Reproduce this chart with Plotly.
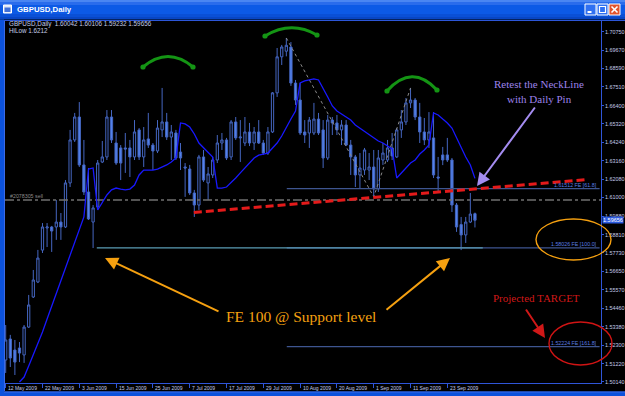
import plotly.graph_objects as go

W, H = 625, 396
PL, PR, PT, PB = 5, 601, 21, 383   # plot area in pixels

SANS = "Liberation Sans, Arial, sans-serif"
SERIF = "Liberation Serif, Times New Roman, serif"
AX = "#2f55d8"
TXT = "#c4cce8"

# ---------------- data ----------------
DATES = ["12 May 2009", "22 May 2009", "3 Jun 2009", "15 Jun 2009", "25 Jun 2009",
         "7 Jul 2009", "17 Jul 2009", "29 Jul 2009", "10 Aug 2009", "20 Aug 2009",
         "1 Sep 2009", "11 Sep 2009", "23 Sep 2009"]
DATE_IDX = [0, 8, 16, 24, 32, 40, 48, 56, 64, 72, 80, 88, 96]

OPEN = [1.5143, 1.5267, 1.5202, 1.5214, 1.5173, 1.5337, 1.5514, 1.5602, 1.5790, 1.5920,
        1.5926, 1.5926, 1.5955, 1.5926, 1.6185, 1.6438, 1.6573, 1.6291, 1.6132, 1.5955,
        1.6044, 1.6308, 1.6338, 1.6573, 1.6420, 1.6391, 1.6391, 1.6391, 1.6338, 1.6497,
        1.6338, 1.6444, 1.6408, 1.6373, 1.6497, 1.6544, 1.6455, 1.6479, 1.6367, 1.6279,
        1.6267, 1.6126, 1.6055, 1.6338, 1.6185, 1.6232, 1.6320, 1.6420, 1.6438, 1.6338,
        1.6544, 1.6450, 1.6420, 1.6485, 1.6420, 1.6485, 1.6420, 1.6361, 1.6485, 1.6715,
        1.6927, 1.6960, 1.6985, 1.6773, 1.6673, 1.6485, 1.6479, 1.6479, 1.6561, 1.6497,
        1.6332, 1.6555, 1.6538, 1.6497, 1.6526, 1.6408, 1.6338, 1.6232, 1.6261, 1.6261,
        1.6279, 1.6150, 1.6320, 1.6320, 1.6391, 1.6338, 1.6497, 1.6544, 1.6656, 1.6673,
        1.6573, 1.6485, 1.6438, 1.6450, 1.6220, 1.6350, 1.6350, 1.6320, 1.6055, 1.5940,
        1.5879, 1.5955, 1.60042]
HIGH = [1.5349, 1.5291, 1.5261, 1.5249, 1.5349, 1.5526, 1.5673, 1.5791, 1.5949, 1.5949,
        1.5932, 1.6085, 1.6008, 1.6202, 1.6497, 1.6597, 1.6661, 1.6438, 1.6273, 1.6055,
        1.6320, 1.6432, 1.6614, 1.6614, 1.6485, 1.6408, 1.6479, 1.6438, 1.6555, 1.6508,
        1.6514, 1.6597, 1.6420, 1.6555, 1.6744, 1.6597, 1.6526, 1.6497, 1.6420, 1.6302,
        1.6291, 1.6144, 1.6350, 1.6379, 1.6279, 1.6338, 1.6467, 1.6479, 1.6450, 1.6555,
        1.6573, 1.6555, 1.6573, 1.6538, 1.6514, 1.6555, 1.6438, 1.6514, 1.6720, 1.6979,
        1.6997, 1.7038, 1.7014, 1.6791, 1.6773, 1.6555, 1.6573, 1.6656, 1.6597, 1.6555,
        1.6585, 1.6573, 1.6585, 1.6555, 1.6555, 1.6438, 1.6350, 1.6361, 1.6391, 1.6361,
        1.6379, 1.6379, 1.6420, 1.6438, 1.6479, 1.6508, 1.6614, 1.6685, 1.6744, 1.6685,
        1.6656, 1.6567, 1.6602, 1.6602, 1.6338, 1.6397, 1.6450, 1.6332, 1.6067, 1.5985,
        1.5985, 1.6126, 1.60106]
LOW = [1.5067, 1.5102, 1.5055, 1.5131, 1.5126, 1.5332, 1.5508, 1.5596, 1.5773, 1.5808,
       1.5779, 1.5850, 1.5850, 1.5920, 1.6161, 1.6426, 1.6279, 1.6114, 1.5967, 1.5802,
       1.6026, 1.6302, 1.6320, 1.6420, 1.6291, 1.6202, 1.6244, 1.6220, 1.6320, 1.6320,
       1.6279, 1.6391, 1.6261, 1.6361, 1.6455, 1.6438, 1.6320, 1.6320, 1.6261, 1.6103,
       1.6114, 1.5985, 1.6026, 1.6191, 1.6085, 1.6214, 1.6302, 1.6379, 1.6320, 1.6320,
       1.6438, 1.6308, 1.6402, 1.6402, 1.6379, 1.6414, 1.6350, 1.6350, 1.6479, 1.6691,
       1.6879, 1.6930, 1.6756, 1.6644, 1.6467, 1.6420, 1.6391, 1.6467, 1.6467, 1.6273,
       1.6320, 1.6467, 1.6467, 1.6408, 1.6402, 1.6232, 1.6161, 1.6155, 1.6232, 1.6202,
       1.6103, 1.6132, 1.6291, 1.6308, 1.6320, 1.6332, 1.6450, 1.6526, 1.6626, 1.6555,
       1.6420, 1.6408, 1.6391, 1.6214, 1.6132, 1.6290, 1.6308, 1.6014, 1.5897, 1.5790,
       1.5832, 1.5949, 1.59232]
CLOSE = [1.5261, 1.5155, 1.5131, 1.5184, 1.5337, 1.5467, 1.5614, 1.5743, 1.5926, 1.5926,
         1.5902, 1.5955, 1.5926, 1.6185, 1.6438, 1.6573, 1.6291, 1.6132, 1.5973, 1.6038,
         1.6302, 1.6338, 1.6573, 1.6438, 1.6302, 1.6302, 1.6385, 1.6338, 1.6485, 1.6338,
         1.6438, 1.6408, 1.6373, 1.6508, 1.6544, 1.6455, 1.6485, 1.6332, 1.6332, 1.6273,
         1.6126, 1.6055, 1.6338, 1.6202, 1.6238, 1.6320, 1.6420, 1.6438, 1.6332, 1.6544,
         1.6450, 1.6455, 1.6485, 1.6420, 1.6485, 1.6420, 1.6361, 1.6485, 1.6715, 1.6927,
         1.6985, 1.6995, 1.6773, 1.6673, 1.6479, 1.6467, 1.6555, 1.6561, 1.6479, 1.6332,
         1.6555, 1.6538, 1.6497, 1.6526, 1.6408, 1.6338, 1.6232, 1.6273, 1.6379, 1.6279,
         1.6150, 1.6332, 1.6361, 1.6391, 1.6344, 1.6497, 1.6544, 1.6656, 1.6673, 1.6573,
         1.6485, 1.6438, 1.6485, 1.6232, 1.6214, 1.6320, 1.6320, 1.6055, 1.5926, 1.5879,
         1.5955, 1.6002, 1.59656]

HILO_START = 3
HILO = [1.5014, 1.5043, 1.5108, 1.5173, 1.5237, 1.5308, 1.5385, 1.5461, 1.5532, 1.5614,
        1.5690, 1.5767, 1.5843, 1.5914, 1.5985, 1.6267, 1.6273, 1.6026, 1.6073, 1.6114,
        1.6144, 1.6155, 1.6149, 1.6144, 1.6149, 1.6173, 1.6232, 1.6261, 1.6261, 1.6261,
        1.6267, 1.6279, 1.6291, 1.6308, 1.6332, 1.6538, 1.6532, 1.6514, 1.6473, 1.6420,
        1.6391, 1.6367, 1.6338, 1.6155, 1.6155, 1.6161, 1.6185, 1.6214, 1.6244, 1.6273,
        1.6302, 1.6332, 1.6349, 1.6355, 1.6361, 1.6391, 1.6420, 1.6461, 1.6514, 1.6561,
        1.6608, 1.6773, 1.6785, 1.6791, 1.6797, 1.6791, 1.6744, 1.6691, 1.6638, 1.6608,
        1.6591, 1.6573, 1.6555, 1.6526, 1.6508, 1.6491, 1.6473, 1.6455, 1.6432, 1.6420,
        1.6402, 1.6385, 1.6214, 1.6244, 1.6273, 1.6302, 1.6320, 1.6355, 1.6379, 1.6408,
        1.6597, 1.6585, 1.6561, 1.6538, 1.6508, 1.6450, 1.6397, 1.6338, 1.6291, 1.6212]

YTICKS = [1.70750, 1.69670, 1.68590, 1.67510, 1.66400, 1.65320, 1.64240, 1.63160, 1.62080,
          1.61000, 1.59880, 1.58810, 1.57730, 1.56650, 1.55570, 1.54460, 1.53380, 1.52300,
          1.51220, 1.50140]
Y_RANGE = [1.50079, 1.71379]
X_RANGE = [-0.15, 129.4]

FE_LEVELS = [1.61512, 1.58026, 1.52224]
FE_NAMES = ["61.8", "100.0", "161.8"]
FE_START = 61.1
FE_ANCHORS = [61, 80, 88]          # bars: head high, swing low, right-shoulder high
SUPPORT_SPAN = [19.8, 103.7]       # bars of the support line at FE 100
ORDER_PRICE = 1.6085
ORDER_LABEL = "#2078305 sell"
NECK_X = [40.9, 126.5]
NECK_Y = [1.6011, 1.6205]


def fx(px):
    return px / W


def fy(py):
    return 1 - py / H


n = len(OPEN)
bars = list(range(n))
fig = go.Figure()

# ---------------- drawn objects under candles ----------------
fig.add_trace(go.Scatter(x=[X_RANGE[0], X_RANGE[1]], y=[ORDER_PRICE, ORDER_PRICE], mode="lines",
                         line=dict(color="#707070", width=1.5, dash="dashdot"), hoverinfo="skip"))
for lev in FE_LEVELS:
    fig.add_trace(go.Scatter(x=[FE_START, X_RANGE[1] - 0.3], y=[lev, lev], mode="lines",
                             line=dict(color="#3e5590", width=1.3), hoverinfo="skip"))
fig.add_trace(go.Scatter(x=SUPPORT_SPAN, y=[FE_LEVELS[1]] * 2, mode="lines",
                         line=dict(color="#5a9cb4", width=1.3), hoverinfo="skip"))
fig.add_trace(go.Scatter(x=FE_ANCHORS,
                         y=[HIGH[FE_ANCHORS[0]], LOW[FE_ANCHORS[1]], HIGH[FE_ANCHORS[2]]],
                         mode="lines", line=dict(color="#8a8a8a", width=1, dash="dot"),
                         hoverinfo="skip"))

# ---------------- candles ----------------
fig.add_trace(go.Candlestick(
    x=bars, open=OPEN, high=HIGH, low=LOW, close=CLOSE,
    increasing=dict(line=dict(color="#4566c0", width=1), fillcolor="#000000"),
    decreasing=dict(line=dict(color="#4566c0", width=1), fillcolor="#5282ec"),
    whiskerwidth=0, hoverinfo="skip"))

# HiLo indicator
fig.add_trace(go.Scatter(x=list(range(HILO_START, HILO_START + len(HILO))), y=HILO, mode="lines",
                         line=dict(color="#1818ff", width=1.3), hoverinfo="skip"))

# neckline
fig.add_trace(go.Scatter(x=NECK_X, y=NECK_Y, mode="lines",
                         line=dict(color="#e41a1a", width=3, dash="8px,4px"), hoverinfo="skip"))

shapes = []
# ---------------- window chrome ----------------
title_cols = [(0, 2, "#4a86f2"), (2, 5, "#2a6cec"), (5, 14, "#0c5ae6"), (14, 17, "#0a50d6"), (17, 19.5, "#0846c4")]
for a, b, c in title_cols:
    shapes.append(dict(type="rect", xref="paper", yref="paper", x0=0, x1=1, y0=fy(b), y1=fy(a),
                       fillcolor=c, line=dict(width=0), layer="above"))
shapes.append(dict(type="rect", xref="paper", yref="paper", x0=0, x1=fx(4), y0=0, y1=fy(19.5),
                   fillcolor="#0c52dc", line=dict(width=0), layer="above"))
shapes.append(dict(type="line", xref="paper", yref="paper", x0=fx(4.5), x1=fx(4.5), y0=fy(391), y1=fy(20),
                   line=dict(color="#3a6ae6", width=1), layer="above"))
shapes.append(dict(type="line", xref="paper", yref="paper", x0=fx(4), x1=1, y0=fy(20.5), y1=fy(20.5),
                   line=dict(color="#2c56d8", width=1), layer="above"))
shapes.append(dict(type="rect", xref="paper", yref="paper", x0=0, x1=1, y0=0, y1=fy(391.5),
                   fillcolor="#0c52dc", line=dict(width=0), layer="above"))
shapes.append(dict(type="line", xref="paper", yref="paper", x0=fx(4), x1=1, y0=fy(392), y1=fy(392),
                   line=dict(color="#3a6ae6", width=1), layer="above"))
# icon
shapes.append(dict(type="rect", xref="paper", yref="paper", x0=fx(3.5), x1=fx(11.5), y0=fy(13), y1=fy(5),
                   fillcolor="#dfe6f5", line=dict(color="#ffffff", width=1), layer="above"))
shapes.append(dict(type="rect", xref="paper", yref="paper", x0=fx(4.5), x1=fx(10.5), y0=fy(12), y1=fy(7.5),
                   fillcolor="#3f6fd8", line=dict(width=0), layer="above"))
# buttons
for x0, x1, col in [(585, 596, "#2f70f2"), (597, 608, "#2f70f2"), (609, 620, "#e2542c")]:
    shapes.append(dict(type="rect", xref="paper", yref="paper", x0=fx(x0), x1=fx(x1), y0=fy(15), y1=fy(4),
                       fillcolor=col, line=dict(color="#ffffff", width=1), layer="above"))
shapes.append(dict(type="line", xref="paper", yref="paper", x0=fx(587.5), x1=fx(591.5), y0=fy(12), y1=fy(12),
                   line=dict(color="#ffffff", width=2), layer="above"))
shapes.append(dict(type="rect", xref="paper", yref="paper", x0=fx(599.5), x1=fx(605.5), y0=fy(12.5), y1=fy(6.5),
                   line=dict(color="#ffffff", width=1.2), layer="above"))
shapes.append(dict(type="line", xref="paper", yref="paper", x0=fx(611.5), x1=fx(617.5), y0=fy(6.5), y1=fy(12.5),
                   line=dict(color="#ffffff", width=1.6), layer="above"))
shapes.append(dict(type="line", xref="paper", yref="paper", x0=fx(611.5), x1=fx(617.5), y0=fy(12.5), y1=fy(6.5),
                   line=dict(color="#ffffff", width=1.6), layer="above"))

# ---------------- hand drawings ----------------
ARCS = [((143, 67), (168, 46), (193, 67)),
        ((265, 36), (291, 20), (317, 35)),
        ((387, 91), (412, 63), (437, 90))]
GREEN = "#149414"
for (x0, y0), (cx, cy), (x1, y1) in ARCS:
    shapes.append(dict(type="path", xref="paper", yref="paper",
                       path=f"M {fx(x0)},{fy(y0)} Q {fx(cx)},{fy(cy)} {fx(x1)},{fy(y1)}",
                       line=dict(color=GREEN, width=3), layer="above"))
    for (px, py) in [(x0, y0), (x1, y1)]:
        shapes.append(dict(type="circle", xref="paper", yref="paper", x0=fx(px - 2.6), x1=fx(px + 2.6),
                           y0=fy(py + 2.6), y1=fy(py - 2.6), fillcolor=GREEN, line=dict(width=0),
                           layer="above"))
shapes.append(dict(type="circle", xref="paper", yref="paper", x0=fx(536), x1=fx(611), y0=fy(260), y1=fy(219),
                   line=dict(color="#f5a010", width=1.4), layer="above"))
shapes.append(dict(type="circle", xref="paper", yref="paper", x0=fx(549), x1=fx(612), y0=fy(365), y1=fy(322),
                   line=dict(color="#d01414", width=1.4), layer="above"))

annotations = []
annotations.append(dict(xref="paper", yref="paper", x=fx(15), y=fy(9.5), text="<b>GBPUSD,Daily</b>",
                        showarrow=False, xanchor="left", yanchor="middle",
                        font=dict(family=SANS, size=7.8, color="#ffffff")))
annotations.append(dict(xref="paper", yref="paper", x=fx(7), y=fy(24.5),
                        text=f"GBPUSD,Daily  {OPEN[-1]:.5f} {HIGH[-1]:.5f} {LOW[-1]:.5f} {CLOSE[-1]:.5f}",
                        showarrow=False, xanchor="left", yanchor="middle",
                        font=dict(family=SANS, size=6.3, color=TXT)))
annotations.append(dict(xref="paper", yref="paper", x=fx(7), y=fy(30.5), text=f"HiLow {HILO[-1]:.4f}",
                        showarrow=False, xanchor="left", yanchor="middle",
                        font=dict(family=SANS, size=6.3, color=TXT)))
for idx, lab in zip(DATE_IDX, DATES):
    annotations.append(dict(xref="x", yref="paper", x=idx, y=fy(387.5), text=lab, showarrow=False,
                            xanchor="left", yanchor="middle", xshift=0.5,
                            font=dict(family=SANS, size=5, color=TXT)))
annotations.append(dict(xref="paper", yref="y", x=fx(8), y=ORDER_PRICE, text=ORDER_LABEL, showarrow=False,
                        xanchor="left", yanchor="bottom", yshift=-1,
                        font=dict(family=SANS, size=5.3, color="#8a8a8a")))
for lev, nm in zip(FE_LEVELS, FE_NAMES):
    annotations.append(dict(xref="paper", yref="y", x=fx(599), y=lev, text=f"{lev:.5f} FE [{nm}]",
                            showarrow=False, xanchor="right", yanchor="bottom", yshift=-1,
                            font=dict(family=SANS, size=5.3, color="#5a7ee0")))
annotations.append(dict(xref="paper", yref="y", x=fx(602), y=CLOSE[-1], text=f"{CLOSE[-1]:.5f}",
                        showarrow=False, xanchor="left", yanchor="middle", bgcolor="#2d5be0",
                        borderpad=0, font=dict(family=SANS, size=5.5, color="#ffffff")))
annotations.append(dict(xref="paper", yref="paper", x=fx(538.5), y=fy(84), text="Retest the NeckLine",
                        showarrow=False, xanchor="center", yanchor="middle",
                        font=dict(family=SERIF, size=11, color="#9d82ea")))
annotations.append(dict(xref="paper", yref="paper", x=fx(539.5), y=fy(99), text="with Daily Pin",
                        showarrow=False, xanchor="center", yanchor="middle",
                        font=dict(family=SERIF, size=11, color="#9d82ea")))
annotations.append(dict(xref="paper", yref="paper", x=fx(536.5), y=fy(298), text="Projected TARGET",
                        showarrow=False, xanchor="center", yanchor="middle",
                        font=dict(family=SERIF, size=11, color="#d01818")))
annotations.append(dict(xref="paper", yref="paper", x=fx(301), y=fy(316), text="FE 100 @ Support level",
                        showarrow=False, xanchor="center", yanchor="middle",
                        font=dict(family=SERIF, size=15.5, color="#f5a010")))
for tip, tail, col in [((477, 186), (536, 106), "#a48cf0"),
                       ((545, 338), (525, 308), "#d01818"),
                       ((105, 258), (220, 312), "#f5a010"),
                       ((450, 258), (385, 311), "#f5a010")]:
    annotations.append(dict(xref="paper", yref="paper", x=fx(tip[0]), y=fy(tip[1]), text="",
                            showarrow=True, ax=tail[0] - tip[0], ay=tail[1] - tip[1],
                            arrowhead=2, arrowsize=1.3, arrowwidth=2, arrowcolor=col))

fig.update_layout(
    width=W, height=H, margin=dict(l=0, r=0, t=0, b=0),
    paper_bgcolor="#000000", plot_bgcolor="#000000", showlegend=False,
    shapes=shapes, annotations=annotations,
    xaxis=dict(domain=[fx(PL), fx(PR)], range=X_RANGE, showgrid=False, zeroline=False,
               showline=True, linecolor=AX, linewidth=1, ticks="outside", ticklen=4, tickcolor=AX,
               tickvals=DATE_IDX, showticklabels=False, rangeslider=dict(visible=False),
               fixedrange=True, automargin=False),
    yaxis=dict(domain=[1 - PB / H, 1 - PT / H], range=Y_RANGE, side="right", showgrid=False,
               zeroline=False, showline=True, linecolor=AX, linewidth=1, ticks="outside",
               ticklen=2, tickcolor=AX, tickvals=YTICKS, ticktext=[f"{v:.5f}" for v in YTICKS],
               tickfont=dict(family=SANS, size=5.4, color=TXT), ticklabelstandoff=0,
               fixedrange=True, automargin=False),
)

fig.write_html("out.html")
